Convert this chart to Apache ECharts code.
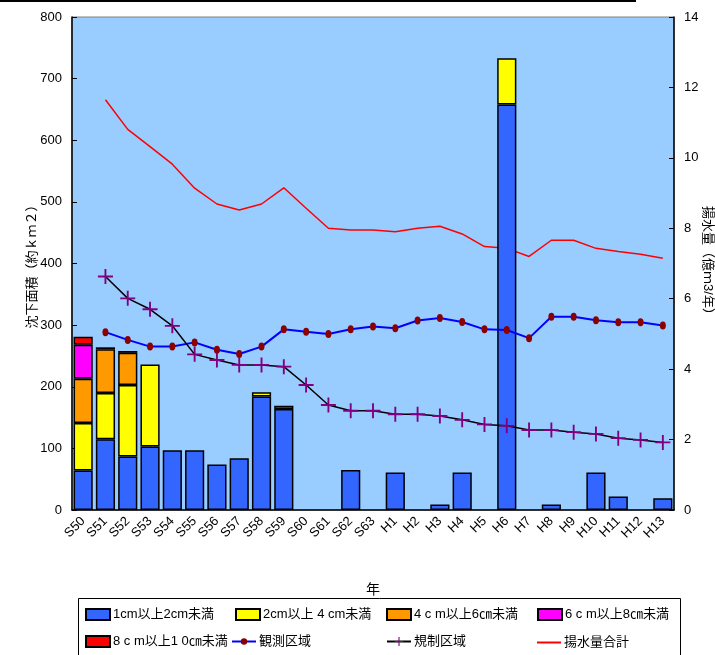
<!DOCTYPE html>
<html>
<head>
<meta charset="utf-8">
<script src="https://cdn.jsdelivr.net/npm/echarts@6/dist/echarts.min.js"></script>
<style>
  html, body { margin: 0; padding: 0; background: #fff; }
  #chart { width: 715px; height: 655px; }
</style>
</head>
<body>
<div id="chart"></div>
<script>
// Fiscal years (Showa S50–S63, Heisei H1–H13)
const years = ['S50','S51','S52','S53','S54','S55','S56','S57','S58','S59','S60','S61','S62','S63',
               'H1','H2','H3','H4','H5','H6','H7','H8','H9','H10','H11','H12','H13'];

// Subsidence area by depth class (km2), stacked
const area1to2  = [64,115,87,103,97,97,74,84,184,164,null,null,65,null,61,null,9,61,null,658,null,9,null,61,22,null,19];
const area2to4  = [77,75,116,133,null,null,null,null,7,5,null,null,null,null,null,null,null,null,null,75,null,null,null,null,null,null,null];
const area4to6  = [72,71,52,null,null,null,null,null,null,null,null,null,null,null,null,null,null,null,null,null,null,null,null,null,null,null,null];
const area6to8  = [55,3,3,null,null,null,null,null,null,null,null,null,null,null,null,null,null,null,null,null,null,null,null,null,null,null,null];
const area8to10 = [13,null,null,null,null,null,null,null,null,null,null,null,null,null,null,null,null,null,null,null,null,null,null,null,null,null,null];

// Groundwater pumping (100 million m3 / year)
const observedZone  = [null,5.05,4.83,4.64,4.64,4.76,4.55,4.43,4.64,5.13,5.06,5.00,5.13,5.21,5.16,5.38,5.45,5.34,5.13,5.11,4.88,5.49,5.49,5.39,5.33,5.33,5.24];
const regulatedZone = [null,6.63,6.01,5.70,5.23,4.42,4.26,4.12,4.12,4.07,3.55,2.98,2.82,2.82,2.72,2.72,2.67,2.56,2.43,2.39,2.27,2.27,2.21,2.16,2.04,1.99,1.92];
const pumpingTotal  = [null,11.65,10.81,10.32,9.82,9.14,8.69,8.52,8.69,9.15,8.57,8.00,7.95,7.95,7.90,8.00,8.06,7.84,7.48,7.43,7.20,7.66,7.66,7.43,7.34,7.26,7.15];

const names = ['1cm以上2cm未満','2cm以上 4 cm未満','4 c m以上6㎝未満','6 c m以上8㎝未満','8 c m以上1 0㎝未満','観測区域','規制区域','揚水量合計'];

const NUM_FONT = "'Liberation Sans', Arial, sans-serif";
const JP_FONT = "'Liberation Sans', 'Noto Sans CJK JP', sans-serif";
const CROSS = 'path://M8.75,0h2.5v8.75h8.75v2.5h-8.75v8.75h-2.5v-8.75h-8.75v-2.5h8.75z';
const PLAIN_LINE = 'path://M0,9h24v2h-24z';

function barSeries(name, data, color) {
  return {
    name, type: 'bar', stack: 'area', data, yAxisIndex: 0, z: 2,
    barCategoryGap: '14%',
    itemStyle: { color, borderColor: '#000', borderWidth: 1.5 }
  };
}

// one legend per entry so the entries sit in fixed columns
const legendPos = [
  [80, 603], [230, 603], [381, 603], [532, 603],
  [80, 630], [226, 630], [381, 630], [532, 630]
];
const legends = names.map((n, i) => {
  const lg = {
    left: legendPos[i][0], top: legendPos[i][1],
    data: [n], itemWidth: 24, itemHeight: 11, itemGap: 4,
    selectedMode: false,
    textStyle: { fontFamily: JP_FONT, fontSize: 13, color: '#000', padding: [0, 0, 0, -2] }
  };
  if (i < 5) lg.icon = 'rect';
  if (i === 5) lg.itemHeight = 8;
  if (i === 7) { lg.data = [{ name: n, icon: PLAIN_LINE }]; lg.itemHeight = 20; lg.top = legendPos[i][1] + 1; }
  return lg;
});

const chart = echarts.init(document.getElementById('chart'));
chart.setOption({
  animation: false,
  backgroundColor: '#fff',
  textStyle: { fontFamily: JP_FONT },
  grid: {
    left: 72, right: 41, top: 17, bottom: 145,
    containLabel: false, outerBoundsMode: 'none',
    show: true, backgroundColor: '#99CCFF', borderColor: '#808080', borderWidth: 1
  },
  legend: legends,
  graphic: [
    { type: 'line', shape: { x1: 0, y1: 1, x2: 636, y2: 1 }, style: { stroke: '#000', lineWidth: 2 } },
    { type: 'rect', shape: { x: 78.5, y: 598.5, width: 602, height: 62 }, style: { fill: 'none', stroke: '#000', lineWidth: 1 }, z: -1 }
  ],
  xAxis: {
    type: 'category', data: years,
    name: '年', nameLocation: 'middle', nameGap: 73, nameMoveOverlap: false,
    nameTextStyle: { fontFamily: JP_FONT, fontSize: 14, color: '#000' },
    axisLine: { lineStyle: { color: '#000', width: 1.5 } },
    axisTick: { inside: true, length: 5, lineStyle: { color: '#000' } },
    axisLabel: { rotate: 45, fontSize: 13, color: '#000', fontFamily: NUM_FONT, margin: 9, interval: 0 }
  },
  yAxis: [
    {
      type: 'value', min: 0, max: 800, interval: 100,
      name: '沈下面積（約ｋｍ２）', nameLocation: 'middle', nameGap: 33, nameMoveOverlap: false,
      nameTextStyle: { fontFamily: JP_FONT, fontSize: 13, color: '#000' },
      axisLine: { show: true, lineStyle: { color: '#000', width: 1.5 } },
      axisTick: { show: true, inside: true, length: 5, lineStyle: { color: '#000' } },
      axisLabel: { fontSize: 13, color: '#000', fontFamily: NUM_FONT, margin: 10 },
      splitLine: { show: false }
    },
    {
      type: 'value', min: 0, max: 14, interval: 2, position: 'right',
      name: '揚水量（億ｍ3/年）', nameLocation: 'middle', nameGap: 27, nameRotate: -90, nameMoveOverlap: false,
      nameTextStyle: { fontFamily: JP_FONT, fontSize: 13, color: '#000' },
      axisLine: { show: true, lineStyle: { color: '#000', width: 1.5 } },
      axisTick: { show: true, inside: true, length: 5, lineStyle: { color: '#000' } },
      axisLabel: { fontSize: 13, color: '#000', fontFamily: NUM_FONT, margin: 10 },
      splitLine: { show: false }
    }
  ],
  series: [
    barSeries(names[0], area1to2,  '#3366FF'),
    barSeries(names[1], area2to4,  '#FFFF00'),
    barSeries(names[2], area4to6,  '#FF9900'),
    barSeries(names[3], area6to8,  '#FF00FF'),
    barSeries(names[4], area8to10, '#FF0000'),
    {
      name: names[5], type: 'line', yAxisIndex: 1, data: observedZone, z: 4,
      symbol: 'circle', symbolSize: [6, 8],
      lineStyle: { color: '#0000FF', width: 2 },
      itemStyle: { color: '#8B0000' }
    },
    {
      name: names[6], type: 'line', yAxisIndex: 1, data: regulatedZone, z: 4,
      symbol: CROSS, symbolSize: 15,
      lineStyle: { color: '#000', width: 1.5 },
      itemStyle: { color: '#800080' }
    },
    {
      name: names[7], type: 'line', yAxisIndex: 1, data: pumpingTotal, z: 1,
      symbol: 'none',
      lineStyle: { color: '#FF0000', width: 1.5 },
      itemStyle: { color: '#FF0000' }
    }
  ]
});
</script>
</body>
</html>
